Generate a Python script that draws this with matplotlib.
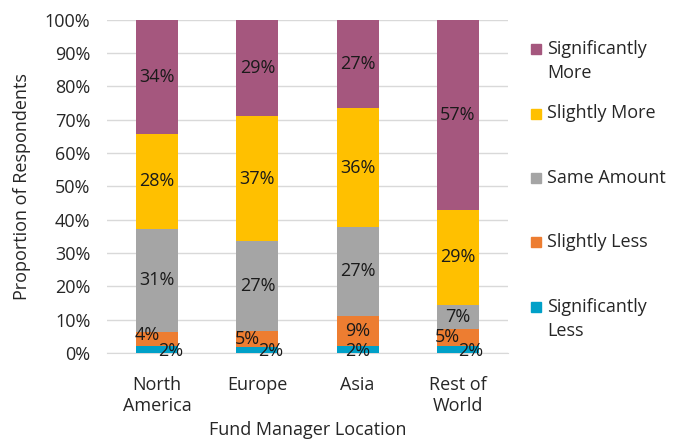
import matplotlib.pyplot as plt
import matplotlib.patches as mpatches
import numpy as np

plt.rcParams['font.family'] = ['Open Sans', 'DejaVu Sans']

locations = ['North\nAmerica', 'Europe', 'Asia', 'Rest of\nWorld']
series = ['Significantly\nLess', 'Slightly Less', 'Same Amount', 'Slightly More', 'Significantly\nMore']
colors = ['#00A0C8', '#ED7D31', '#A5A5A5', '#FFC000', '#A5577E']

sig_less = [1.9, 1.7, 2.0, 2.1]
slight_less = [4.3, 4.9, 9.1, 5.1]
same = [31.1, 27.0, 26.7, 7.2]
slight_more = [28.4, 37.4, 35.6, 28.6]
sig_more = [34.3, 29.0, 26.6, 57.0]

# labels as printed on the chart
label_pct = [[2, 2, 2, 2], [4, 5, 9, 5], [31, 27, 27, 7], [28, 37, 36, 29], [34, 29, 27, 57]]

values = np.array([sig_less, slight_less, same, slight_more, sig_more])
shares = values / values.sum(axis=0) * 100

W, H = 678, 441
fig, ax = plt.subplots(figsize=(W / 100, H / 100), dpi=100)
fig.subplots_adjust(left=0.158, right=0.749, top=0.955, bottom=0.2)

fs = 13
txt = '#262626'
x = np.arange(len(locations))
bottom = np.zeros(len(locations))
for i in range(len(series)):
    ax.bar(x, shares[i], 0.42, bottom=bottom, color=colors[i], zorder=3)
    for j in range(len(locations)):
        v = shares[i][j]
        cx, cy = x[j], bottom[j] + v / 2
        dx, dy = 0, 0
        if i == 0:
            dx, dy = (0.13, -0.4) if j != 2 else (0, -0.4)
        elif i == 1 and v < 7:
            dx, dy = -0.1, (1.3 if j == 0 else 0)
        ax.text(cx + dx, cy + dy, '%d%%' % label_pct[i][j], ha='center', va='center',
                fontsize=fs, color='#1a1a1a', zorder=4)
    bottom += shares[i]

ax.set_xlim(-0.5, len(locations) - 0.5)
ax.set_ylim(0, 100)
ax.set_yticks(np.arange(0, 101, 10))
ax.set_yticklabels(['%d%%' % t for t in range(0, 101, 10)])
ax.set_xticks(x)
ax.set_xticklabels(locations, linespacing=1.15)
ax.tick_params(length=0, labelsize=fs, colors=txt)
ax.tick_params(axis='x', pad=17)
ax.tick_params(axis='y', pad=12)
ax.yaxis.grid(True, color='#D9D9D9', linewidth=1, zorder=0)
for s in ['top', 'right', 'left']:
    ax.spines[s].set_visible(False)
ax.spines['bottom'].set_color('#D9D9D9')
ax.set_ylabel('Proportion of Respondents', fontsize=fs, color=txt, labelpad=10)
ax.set_xlabel('Fund Manager Location', fontsize=fs, color=txt, labelpad=5)

# legend, top entry first, first text line of each entry evenly spaced
for k, i in enumerate(range(len(series) - 1, -1, -1)):
    yc = 48 + k * 64.5
    fig.patches.append(mpatches.Rectangle((531 / W, 1 - (yc + 6) / H), 10 / W, 10 / H,
                                          transform=fig.transFigure, color=colors[i]))
    fig.text(547 / W, 1 - (yc - 8) / H, series[i], ha='left', va='top', fontsize=fs,
             color=txt, linespacing=1.4)

plt.savefig('out.png')
